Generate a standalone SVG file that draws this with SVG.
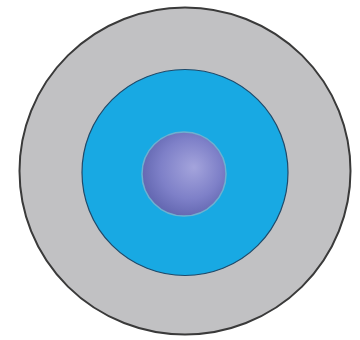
<svg xmlns="http://www.w3.org/2000/svg" width="360" height="340" viewBox="0 0 360 340">
<defs>
<radialGradient id="sph" cx="0.55" cy="0.45" r="0.6" fx="0.62" fy="0.42">
<stop offset="0" stop-color="#a4a4dc"/>
<stop offset="0.6" stop-color="#7e80c8"/>
<stop offset="1" stop-color="#5f63ad"/>
</radialGradient>
</defs>
<style>
.outer{fill:#c1c1c3;stroke:#3a3a3a;stroke-width:2}
.mid{fill:#18a9e3;stroke:#1f4a6a;stroke-width:1.2}
.core{fill:url(#sph);stroke:#6fb0d0;stroke-width:1.5}
</style>
<rect width="360" height="340" fill="#ffffff"/>
<g id="outer"><ellipse class="outer" cx="185" cy="171" rx="165.5" ry="163.5"/></g>
<g id="middle"><circle class="mid" cx="185" cy="172.5" r="103"/></g>
<g id="core"><circle class="core" cx="184" cy="174" r="42"/></g>
<g id="connectors"/>
</svg>
